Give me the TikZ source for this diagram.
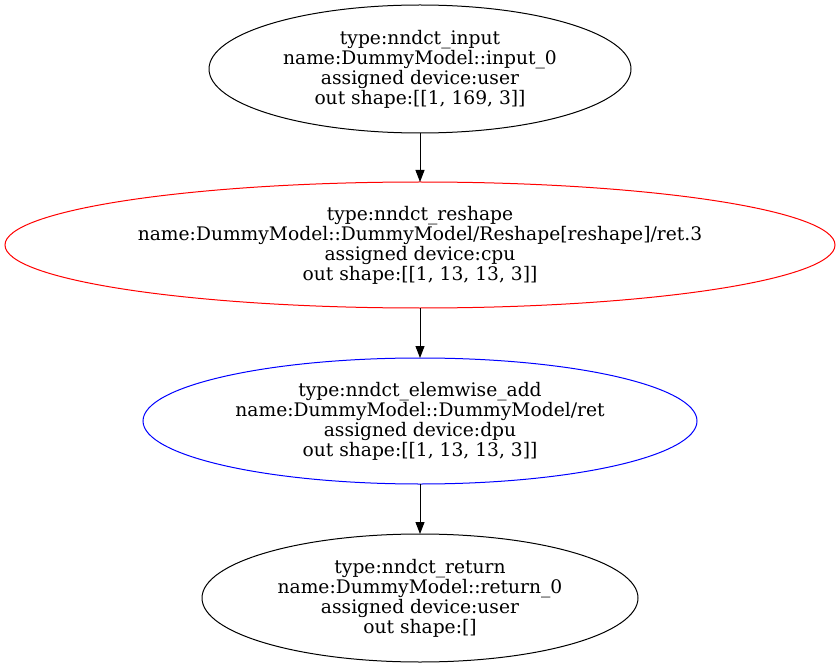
\documentclass[tikz,border=0pt]{standalone}
\usepackage{fontspec}
\setmainfont{DejaVu Serif}
\usetikzlibrary{shapes.geometric,arrows.meta,positioning}

\begin{document}
\begin{tikzpicture}[
    x=1pt, y=1pt,
    node distance=49pt,
    line width=1pt,
    op/.style={ellipse, draw, inner sep=0pt, outer sep=0pt, align=center,
               font=\fontsize{18.67}{20}\selectfont},
    flow/.style={-{Triangle[length=12pt,width=9pt]}}
]
    \useasboundingbox (0,0) rectangle (840,-668);

    \node[op, minimum width=422pt, minimum height=128pt] (input) at (420,-69)
        {type:nndct\_input\\name:DummyModel::input\_0\\assigned device:user\\out shape:[[1, 169, 3]]};
    \node[op, red, text=black, minimum width=830pt, minimum height=126pt, below=of input] (reshape)
        {type:nndct\_reshape\\name:DummyModel::DummyModel/Reshape[reshape]/ret.3\\assigned device:cpu\\out shape:[[1, 13, 13, 3]]};
    \node[op, blue, text=black, minimum width=554pt, minimum height=126pt, below=50pt of reshape] (add)
        {type:nndct\_elemwise\_add\\name:DummyModel::DummyModel/ret\\assigned device:dpu\\out shape:[[1, 13, 13, 3]]};
    \node[op, minimum width=436pt, minimum height=128pt, below=50pt of add] (ret)
        {type:nndct\_return\\name:DummyModel::return\_0\\assigned device:user\\out shape:[]};

    \draw[flow] (input) -- (reshape);
    \draw[flow] (reshape) -- (add);
    \draw[flow] (add) -- (ret);
\end{tikzpicture}
\end{document}
